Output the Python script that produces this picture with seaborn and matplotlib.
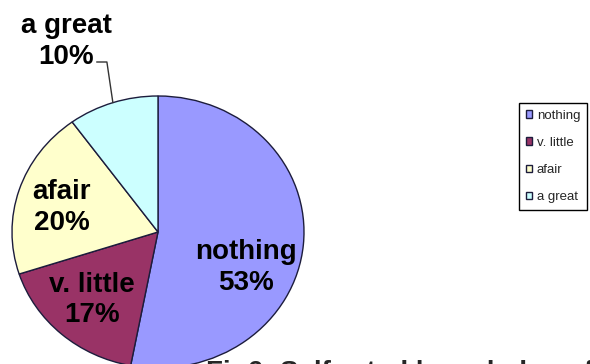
import numpy as np
import matplotlib
matplotlib.use("Agg")
import matplotlib.pyplot as plt
import seaborn as sns

sns.set_theme(style="white")
plt.rcParams["font.family"] = ["Liberation Sans", "DejaVu Sans"]

# data
categories = ["nothing", "v. little", "afair", "a great"]
shares = [53, 17, 20, 10]
colors = ["#9999FF", "#993366", "#FFFFCC", "#CCFFFF"]

W, H = 590, 364
fig = plt.figure(figsize=(W / 100, H / 100), dpi=100)

# pie slightly stretched sideways like the original (rx~146px, ry~136px)
cx, cy, rx, ry = 158, 232, 146, 136
ax = fig.add_axes([(cx - rx) / W, (H - cy - ry) / H, 2 * rx / W, 2 * ry / H])

wedges, _ = ax.pie(shares, colors=colors, startangle=90, counterclock=False,
                   wedgeprops=dict(edgecolor="#1c1c3c", linewidth=1))
ax.set_aspect("auto")
ax.set_xlim(-1, 1)
ax.set_ylim(-1, 1)
ax.set_axis_off()
for w in wedges:
    w.set_clip_on(False)

# data labels
lab_pos = [(0.60, -0.26), (-0.45, -0.50), (-0.66, 0.18), (-0.63, 1.40)]
for name, val, (x, y) in zip(categories, shares, lab_pos):
    ax.text(x, y, f"{name}\n{val}%", ha="center", va="center", fontsize=20,
            fontweight="bold", color="black", linespacing=1.25, clip_on=False)

# leader line for the outside label
w = wedges[3]
mid = np.deg2rad((w.theta1 + w.theta2) / 2)
ax.plot([-0.42, -0.35, np.cos(mid)], [1.25, 1.25, np.sin(mid)],
        color="#333333", linewidth=1, clip_on=False)

leg = fig.legend(wedges, categories, loc="upper left",
                 bbox_to_anchor=(519 / W, 1 - 103 / H), fontsize=9.5,
                 frameon=True, fancybox=False, framealpha=1, edgecolor="black",
                 handlelength=0.5, handleheight=0.5, handletextpad=0.35,
                 labelspacing=1.15, borderpad=0.5, borderaxespad=0)
leg.get_frame().set_linewidth(1)

# caption, cut off at the bottom as in the original
fig.text(206 / W, (H - 380) / H, "Fig6: Self-rated knowledge of", fontsize=20,
         fontweight="bold", ha="left", va="baseline")

fig.savefig("out.png", dpi=100)
